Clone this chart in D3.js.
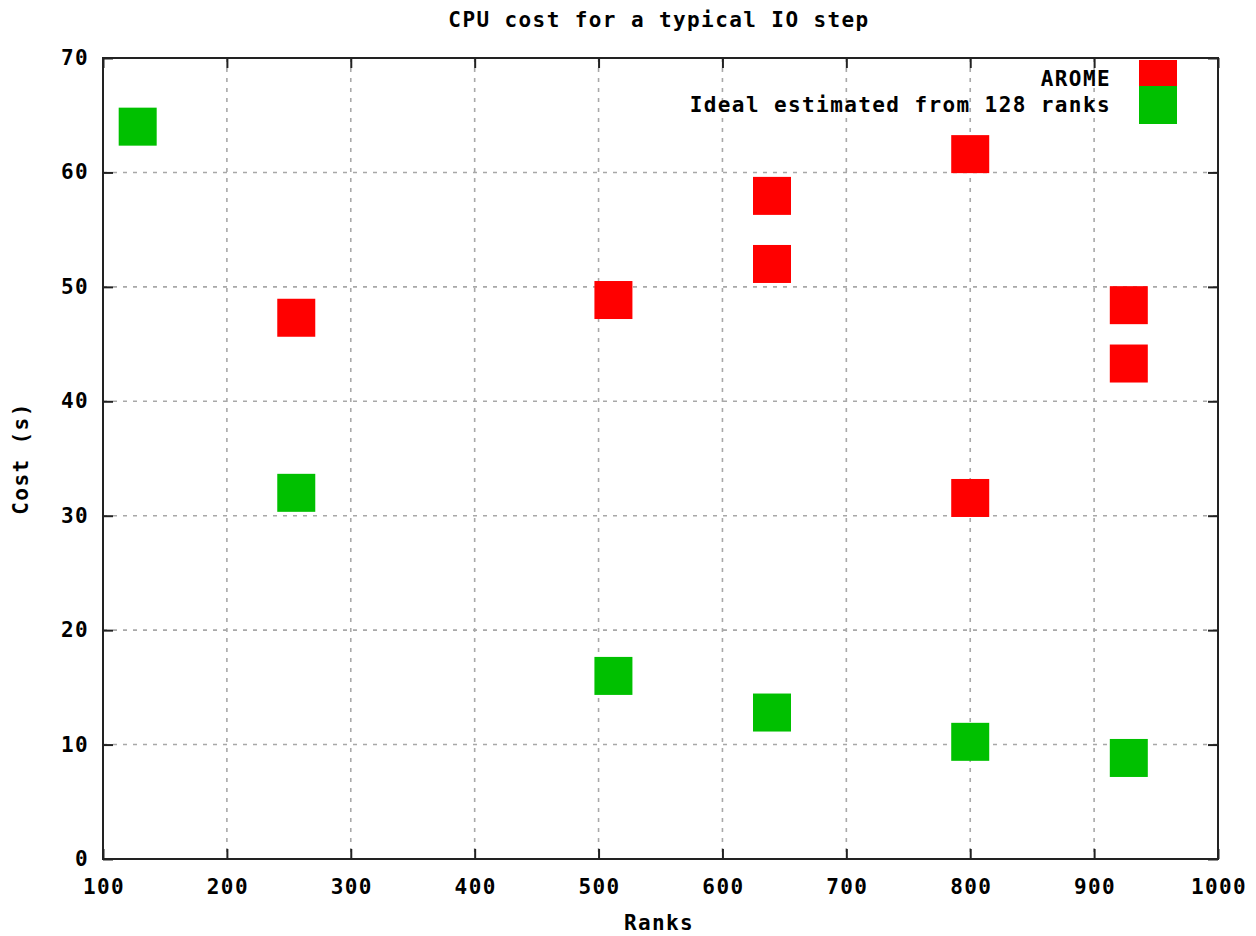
<!DOCTYPE html>
<html>
<head>
<meta charset="utf-8">
<script src="https://cdn.jsdelivr.net/npm/d3@7"></script>
<style>
  body { margin: 0; background: #fff; }
  text { font-family: "DejaVu Sans Mono", monospace; font-weight: bold; font-size: 21px; letter-spacing: 1.4px; fill: #000; }
</style>
</head>
<body>
<div id="chart"></div>
<script>
// Données
const aromeRanks = [256, 512, 640, 640, 800, 800, 928, 928];
const aromeCost = [47.3, 48.85, 57.95, 52.0, 61.6, 31.55, 48.4, 43.3];
const idealRanks = [128, 256, 512, 640, 800, 928];
const idealCost = [64, 32, 16, 12.8, 10.24, 8.83];
const xTicks = [100, 200, 300, 400, 500, 600, 700, 800, 900, 1000];
const yTicks = [0, 10, 20, 30, 40, 50, 60, 70];
const seriesNames = ["AROME", "Ideal estimated from 128 ranks"];
const seriesColors = ["#ff0000", "#00c000"];

const W = 1256, H = 936;
const pLeft = 103, pRight = 1218, pTop = 58, pBottom = 859;
const box = 38;

const svg = d3.select("#chart").append("svg")
  .attr("width", W).attr("height", H);

const x = d3.scaleLinear().domain([100, 1000]).range([pLeft, pRight]);
const y = d3.scaleLinear().domain([0, 70]).range([pBottom, pTop]);

// Grille pointillée
svg.append("g").selectAll("line").data(xTicks.slice(1, -1)).join("line")
  .attr("x1", d => x(d)).attr("x2", d => x(d))
  .attr("y1", pTop).attr("y2", pBottom)
  .attr("stroke", "#a8a8a8").attr("stroke-width", 1.6).attr("stroke-dasharray", "4,6");
svg.append("g").selectAll("line").data(yTicks.slice(1, -1)).join("line")
  .attr("x1", pLeft).attr("x2", pRight)
  .attr("y1", d => y(d)).attr("y2", d => y(d))
  .attr("stroke", "#a8a8a8").attr("stroke-width", 1.6).attr("stroke-dasharray", "4,6");

// Axes (ticks vers l'intérieur)
const tk = 10;
svg.append("g").attr("transform", `translate(0,${pBottom})`)
  .call(d3.axisTop(x).tickValues(xTicks).tickSize(tk).tickFormat(""))
  .call(g => g.select(".domain").remove());
svg.append("g").attr("transform", `translate(0,${pTop})`)
  .call(d3.axisBottom(x).tickValues(xTicks).tickSize(tk).tickFormat(""))
  .call(g => g.select(".domain").remove());
svg.append("g").attr("transform", `translate(${pLeft},0)`)
  .call(d3.axisRight(y).tickValues(yTicks).tickSize(tk).tickFormat(""))
  .call(g => g.select(".domain").remove());
svg.append("g").attr("transform", `translate(${pRight},0)`)
  .call(d3.axisLeft(y).tickValues(yTicks).tickSize(tk).tickFormat(""))
  .call(g => g.select(".domain").remove());
svg.selectAll(".tick line").attr("stroke", "#222").attr("stroke-width", 2);

// Libellés des ticks
svg.append("g").selectAll("text").data(xTicks).join("text")
  .attr("x", d => x(d) + 1).attr("y", 887)
  .attr("text-anchor", "middle").attr("dominant-baseline", "central")
  .text(d => d);
svg.append("g").selectAll("text").data(yTicks).join("text")
  .attr("x", 89).attr("y", d => y(d))
  .attr("text-anchor", "end").attr("dominant-baseline", "central")
  .text(d => d);

// Points
function drawSeries(xs, ys, color) {
  svg.append("g").selectAll("rect").data(xs.map((d, i) => [d, ys[i]])).join("rect")
    .attr("x", d => x(d[0]) - box / 2).attr("y", d => y(d[1]) - box / 2)
    .attr("width", box).attr("height", box)
    .attr("fill", color);
}
drawSeries(aromeRanks, aromeCost, seriesColors[0]);
drawSeries(idealRanks, idealCost, seriesColors[1]);

// Légende
const legY = [79, 105];
seriesNames.forEach((name, i) => {
  svg.append("rect")
    .attr("x", 1139).attr("y", Math.max(pTop, legY[i] - box / 2))
    .attr("width", box).attr("height", box)
    .attr("fill", seriesColors[i]);
  svg.append("text")
    .attr("x", 1111).attr("y", legY[i])
    .attr("text-anchor", "end").attr("dominant-baseline", "central")
    .text(name);
});

// Cadre
svg.append("rect")
  .attr("x", pLeft).attr("y", pTop)
  .attr("width", pRight - pLeft).attr("height", pBottom - pTop)
  .attr("fill", "none").attr("stroke", "#222").attr("stroke-width", 2);

// Titres
svg.append("text").attr("x", 659).attr("y", 20)
  .attr("text-anchor", "middle").attr("dominant-baseline", "central")
  .text("CPU cost for a typical IO step");
svg.append("text").attr("x", 659).attr("y", 923)
  .attr("text-anchor", "middle").attr("dominant-baseline", "central")
  .text("Ranks");
svg.append("text")
  .attr("transform", `translate(21,${(pTop + pBottom) / 2}) rotate(-90)`)
  .attr("text-anchor", "middle").attr("dominant-baseline", "central")
  .text("Cost (s)");
</script>
</body>
</html>
